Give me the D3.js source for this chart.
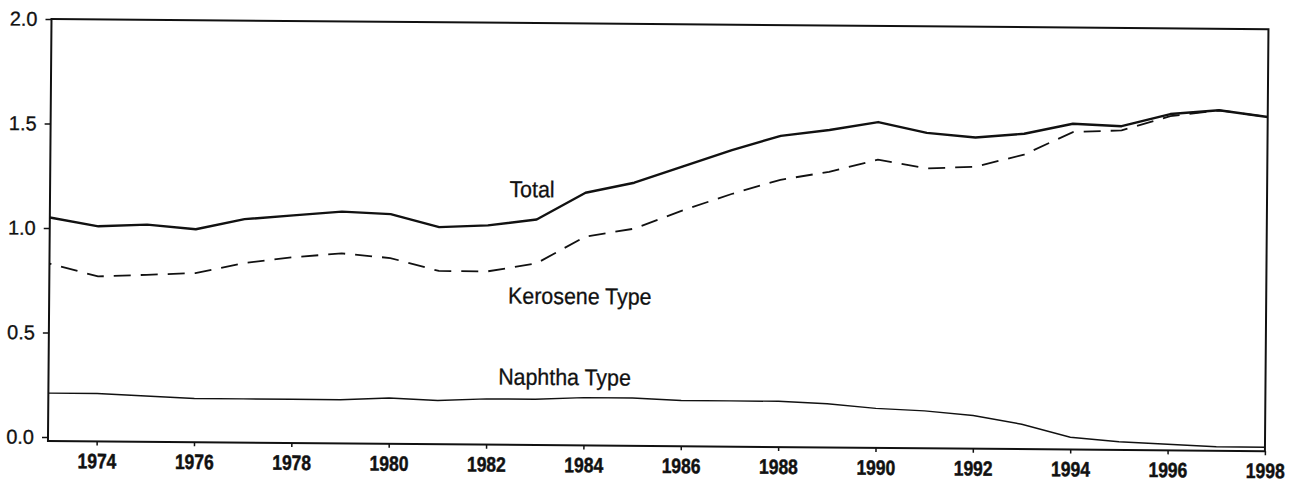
<!DOCTYPE html>
<html>
<head>
<meta charset="utf-8">
<script src="https://cdn.jsdelivr.net/npm/d3@7"></script>
<style>
  html, body { margin: 0; padding: 0; background: #fff; }
  svg { display: block; }
  .axis path, .axis line { stroke: #111; }
  .axis text { fill: #111; font-family: "Liberation Sans", Arial, sans-serif; }
</style>
</head>
<body>
<svg id="chart" width="1295" height="485"></svg>
<script>
// Jet fuel consumption, 1973-1998 (million barrels per day)
const years = [1973, 1974, 1975, 1976, 1977, 1978, 1979, 1980, 1981, 1982, 1983, 1984, 1985,
               1986, 1987, 1988, 1989, 1990, 1991, 1992, 1993, 1994, 1995, 1996, 1997, 1998];
const total = [1.05, 1.01, 1.02, 1.00, 1.05, 1.07, 1.09, 1.08, 1.02, 1.03, 1.06, 1.19, 1.24,
               1.32, 1.40, 1.47, 1.50, 1.54, 1.49, 1.47, 1.49, 1.54, 1.53, 1.59, 1.61, 1.58];
const kerosene = [0.83, 0.77, 0.78, 0.79, 0.84, 0.87, 0.89, 0.87, 0.81, 0.81, 0.85, 0.98, 1.02,
                  1.11, 1.19, 1.26, 1.30, 1.36, 1.32, 1.33, 1.39, 1.50, 1.51, 1.58, 1.61, 1.58];
const naphtha = [0.21, 0.21, 0.20, 0.19, 0.19, 0.19, 0.19, 0.20, 0.19, 0.20, 0.20, 0.21, 0.21,
                 0.20, 0.20, 0.20, 0.19, 0.17, 0.16, 0.14, 0.10, 0.04, 0.02, 0.01, 0.00, 0.00];
const yTicks = [0, 0.5, 1.0, 1.5, 2.0];
const xTicks = [1974, 1976, 1978, 1980, 1982, 1984, 1986, 1988, 1990, 1992, 1994, 1996, 1998];

// In-chart series labels: [text, year, value]
const seriesLabels = [
  ["Total", 1982.9, 1.167],
  ["Kerosene Type", 1983.9, 0.657],
  ["Naphtha Type", 1983.6, 0.269]
];

const W = 1217, H = 422;
const svg = d3.select("#chart");
// the whole plot sits at a very slight clockwise tilt
const g = svg.append("g").attr("transform", "translate(51.5,19) rotate(0.48)");

const x = d3.scaleLinear().domain([1973, 1998]).range([0, W]);
const y = d3.scaleLinear().domain([0, 2]).range([418, 0]);

// frame
g.append("rect")
  .attr("x", 0).attr("y", 0).attr("width", W).attr("height", H)
  .attr("fill", "none").attr("stroke", "#111").attr("stroke-width", 2);

// y axis
const yAxis = g.append("g").attr("class", "axis")
  .call(d3.axisLeft(y).tickValues(yTicks).tickFormat(d3.format(".1f")).tickSize(6).tickPadding(8));
yAxis.select(".domain").remove();
yAxis.selectAll("line").attr("stroke-width", 1.5);
yAxis.selectAll("text").attr("font-size", 20)
  .attr("stroke", "#111").attr("stroke-width", 0.3);

// x axis
const xAxis = g.append("g").attr("class", "axis").attr("transform", `translate(0,${H})`)
  .call(d3.axisBottom(x).tickValues(xTicks).tickFormat(d3.format("d")).tickSize(4).tickPadding(8));
xAxis.select(".domain").remove();
xAxis.selectAll("line").attr("stroke-width", 1.5);
xAxis.selectAll("text")
  .attr("font-size", 21).attr("font-weight", "bold")
  .attr("stroke", "#111").attr("stroke-width", 0.5)
  .attr("transform", "scale(0.83,1)");

const line = d3.line().x((d, i) => x(years[i])).y(d => y(d));

g.append("path").datum(naphtha)
  .attr("d", line).attr("fill", "none").attr("stroke", "#111").attr("stroke-width", 1.4);

g.append("path").datum(kerosene)
  .attr("d", line).attr("fill", "none").attr("stroke", "#111").attr("stroke-width", 1.8)
  .attr("stroke-dasharray", "17,10").attr("stroke-dashoffset", -12);

g.append("path").datum(total)
  .attr("d", line).attr("fill", "none").attr("stroke", "#111").attr("stroke-width", 2.4)
  .attr("stroke-linejoin", "round");

// series labels
g.selectAll("g.series-label").data(seriesLabels).join("g")
  .attr("class", "series-label")
  .attr("transform", d => `translate(${x(d[1])},${y(d[2])}) scale(0.93,1)`)
  .append("text")
  .attr("text-anchor", "middle")
  .attr("font-family", "'Liberation Sans', Arial, sans-serif")
  .attr("font-size", 23)
  .attr("fill", "#111")
  .attr("stroke", "#111").attr("stroke-width", 0.3)
  .text(d => d[0]);
</script>
</body>
</html>
